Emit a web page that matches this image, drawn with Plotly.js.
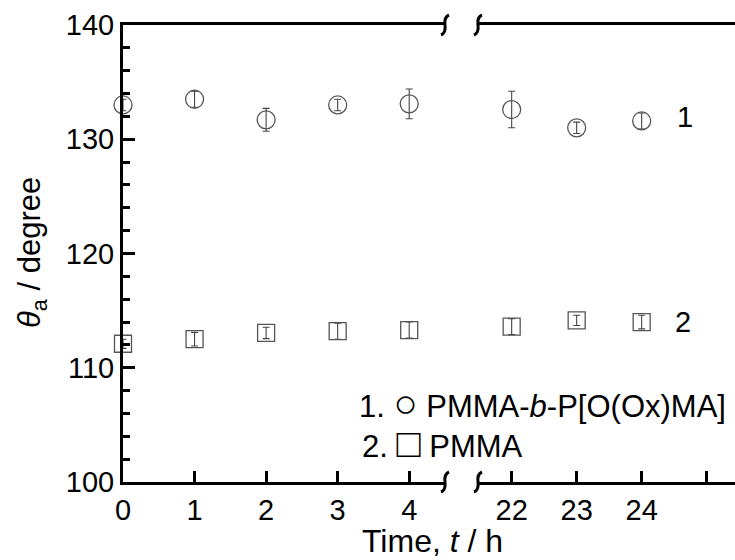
<!DOCTYPE html>
<html><head><meta charset="utf-8">
<script src="https://cdn.plot.ly/plotly-3.0.1.min.js"></script>
<style>html,body{margin:0;padding:0;background:#fff;}</style>
</head><body>
<div id="chart" style="width:735px;height:560px;"></div>
<script>
// ---- data ----
const tLeft = [0, 1, 2, 3, 4];
const tRight = [22, 23, 24];
const s1Left = [133.0, 133.5, 131.7, 133.0, 133.1];
const s1LeftErr = [0.5, 0.7, 1.0, 0.5, 1.3];
const s1Right = [132.6, 131.0, 131.6];
const s1RightErr = [1.6, 0.5, 0.7];
const s2Left = [112.1, 112.5, 113.05, 113.2, 113.3];
const s2LeftErr = [0.4, 0.6, 0.5, 0.7, 0.7];
const s2Right = [113.6, 114.15, 114.0];
const s2RightErr = [0.7, 0.45, 0.6];
const leftTicks = [0, 1, 2, 3, 4];
const rightTicks = [22, 23, 24];
const rightExtraTicks = [25];
const yTicks = [100, 110, 120, 130, 140];

const FONT = 'Liberation Sans, Arial, sans-serif';
const W = 735, H = 560, ML = 123, MR = 0, MT = 25, MB = 78;
const PW = W - ML - MR, PH = H - MT - MB;
const px = x => (x - ML) / PW;
const py = y => (H - MB - y) / PH;

function mk(x, y, err, xa, sym, size) {
  return {
    x: x, y: y, xaxis: xa, yaxis: 'y', type: 'scatter', mode: 'markers',
    cliponaxis: false, showlegend: false,
    marker: {symbol: sym, size: size, color: '#555', line: {width: 1.3, color: '#555'}},
    error_y: {type: 'data', array: err, visible: true, color: '#444', thickness: 1.1, width: 3.5}
  };
}
const data = [
  mk(tLeft, s1Left, s1LeftErr, 'x', 'circle-open', 18),
  mk(tRight, s1Right, s1RightErr, 'x2', 'circle-open', 18),
  mk(tLeft, s2Left, s2LeftErr, 'x', 'square-open', 17),
  mk(tRight, s2Right, s2RightErr, 'x2', 'square-open', 17)
];

const axBase = {
  showline: true, linecolor: '#000', linewidth: 3, mirror: true,
  ticks: 'inside', ticklen: 11, tickwidth: 3, tickcolor: '#000',
  showgrid: false, zeroline: false, fixedrange: true,
  tickfont: {family: FONT, size: 29, color: '#000'}
};

// break marks (decoration)
function brk(xp, yp) {
  return {
    type: 'path', xref: 'paper', yref: 'paper', layer: 'above',
    path: `M ${px(xp + 4)} ${py(yp - 10)} Q ${px(xp - 1)} ${py(yp - 8)} ${px(xp)} ${py(yp)} Q ${px(xp + 1)} ${py(yp + 8)} ${px(xp - 4)} ${py(yp + 10)}`,
    line: {color: '#000', width: 3}
  };
}
const shapes = [brk(445, 482), brk(478, 482), brk(445, 25), brk(478, 25)];

const layout = {
  width: W, height: H,
  margin: {l: ML, r: MR, t: MT, b: MB, pad: 0},
  paper_bgcolor: '#fff', plot_bgcolor: '#fff',
  font: {family: FONT, color: '#000'},
  xaxis: Object.assign({}, axBase, {
    domain: [0, 322 / PW], range: [0, 4.5], anchor: 'y',
    tickvals: leftTicks, ticktext: leftTicks.map(String)
  }),
  xaxis2: Object.assign({}, axBase, {
    domain: [355 / PW, 1], range: [21.482, 25.436], anchor: 'y',
    tickvals: rightTicks, ticktext: rightTicks.map(String),
    minor: {tickmode: 'array', tickvals: rightExtraTicks, ticks: 'inside', ticklen: 11, tickwidth: 3, tickcolor: '#000'}
  }),
  yaxis: Object.assign({}, axBase, {
    range: [100, 140], tickvals: yTicks, mirror: false, anchor: 'x',
    ticklen: 12,
    minor: {dtick: 2, ticks: 'inside', ticklen: 7, tickwidth: 3, tickcolor: '#000'}
  }),
  shapes: shapes,
  annotations: [
    {xref: 'paper', yref: 'paper', x: px(432), y: py(541), text: 'Time, <i>t</i> / h',
     showarrow: false, font: {family: FONT, size: 32, color: '#000'}, xanchor: 'center', yanchor: 'middle'},
    {xref: 'paper', yref: 'paper', x: px(32), y: py(253), text: '<i>θ</i><sub>a</sub> / degree',
     textangle: -90, showarrow: false, font: {family: FONT, size: 31, color: '#000'}, xanchor: 'center', yanchor: 'middle'},
    {xref: 'paper', yref: 'paper', x: px(728), y: py(403), text: '1. <span style="font-size:40px">○</span> PMMA-<i>b</i>-P[O(Ox)MA]',
     showarrow: false, font: {family: FONT, size: 31, color: '#000'}, xanchor: 'right', yanchor: 'middle'},
    {xref: 'paper', yref: 'paper', x: px(360), y: py(443), text: '2. <span style="font-size:40px">□</span> PMMA',
     showarrow: false, font: {family: FONT, size: 31, color: '#000'}, xanchor: 'left', yanchor: 'middle'},
    {xref: 'paper', yref: 'paper', x: px(685), y: py(117), text: '1',
     showarrow: false, font: {family: FONT, size: 29, color: '#000'}, xanchor: 'center', yanchor: 'middle'},
    {xref: 'paper', yref: 'paper', x: px(683), y: py(322), text: '2',
     showarrow: false, font: {family: FONT, size: 29, color: '#000'}, xanchor: 'center', yanchor: 'middle'}
  ]
};

Plotly.newPlot('chart', data, layout, {staticPlot: true, displayModeBar: false});
</script>
</body></html>
